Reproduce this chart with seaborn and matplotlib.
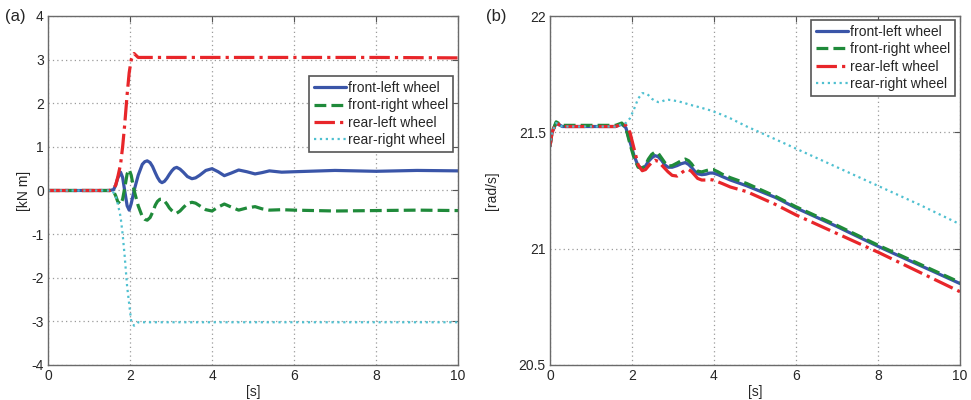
import numpy as np
import pandas as pd
import matplotlib
matplotlib.use("Agg")
import matplotlib.pyplot as plt
import seaborn as sns

# ---- panel (a): wheel torque [kN m] ----
t_front = [0, 1.5, 1.6, 1.65, 1.7, 1.77, 1.82, 1.87, 1.93, 1.98, 2.03, 2.1, 2.2,
           2.3, 2.36, 2.42, 2.49, 2.55, 2.62, 2.67, 2.73, 2.78, 2.84, 2.9, 2.96,
           3.02, 3.08, 3.14, 3.22, 3.3, 3.4, 3.51, 3.6, 3.7, 3.85, 4.0, 4.15,
           4.3, 4.47, 4.65, 4.85, 5.05, 5.22, 5.4, 5.7, 6.0, 7.0, 8.0, 9.0, 10.0]
torque_fl = [0, 0, 0.02, 0.12, 0.28, 0.42, 0.30, 0.0, -0.35, -0.45, -0.30, 0.0,
             0.35, 0.60, 0.66, 0.68, 0.64, 0.55, 0.40, 0.30, 0.21, 0.18, 0.21,
             0.28, 0.37, 0.45, 0.51, 0.53, 0.49, 0.42, 0.32, 0.27, 0.29, 0.35,
             0.46, 0.50, 0.43, 0.34, 0.40, 0.47, 0.43, 0.38, 0.41, 0.45, 0.42,
             0.43, 0.46, 0.44, 0.46, 0.45]
torque_fr = [0, 0, -0.02, -0.12, -0.25, -0.32, -0.20, 0.05, 0.38, 0.48, 0.35,
             0.0, -0.35, -0.60, -0.66, -0.68, -0.62, -0.50, -0.33, -0.25, -0.20,
             -0.20, -0.24, -0.31, -0.40, -0.46, -0.51, -0.52, -0.47, -0.39,
             -0.30, -0.27, -0.29, -0.35, -0.44, -0.47, -0.38, -0.31, -0.38,
             -0.45, -0.40, -0.37, -0.42, -0.45, -0.44, -0.45, -0.47, -0.46,
             -0.45, -0.46]
t_rear = [0, 1.5, 1.6, 1.65, 1.7, 1.77, 1.82, 1.87, 1.93, 1.98, 2.03, 2.1, 2.2,
          3.0, 5.0, 8.0, 10.0]
torque_rl = [0, 0, 0.05, 0.12, 0.30, 0.60, 1.0, 1.5, 2.2, 2.7, 3.0, 3.14, 3.05,
             3.05, 3.05, 3.05, 3.04]
torque_rr = [0, 0, -0.05, -0.12, -0.30, -0.60, -1.0, -1.5, -2.2, -2.6, -3.0,
             -3.1, -3.02, -3.02, -3.02, -3.02, -3.02]

# ---- panel (b): wheel speed [rad/s] ----
t_b = [0, 0.05, 0.15, 0.3, 1.0, 1.6, 1.75, 1.85, 1.95, 2.05, 2.15, 2.25, 2.33,
       2.4, 2.48, 2.56, 2.64, 2.72, 2.8, 2.88, 2.98, 3.1, 3.2, 3.3, 3.38, 3.45,
       3.52, 3.6, 3.7, 3.8, 3.9, 3.98, 4.1, 4.2, 4.4, 4.8, 5.5, 6.0, 7.0, 8.0,
       9.0, 10.0]
speed_fl = [21.44, 21.50, 21.54, 21.525, 21.525, 21.525, 21.535, 21.52, 21.46,
            21.40, 21.355, 21.345, 21.355, 21.375, 21.39, 21.40, 21.395, 21.38,
            21.36, 21.35, 21.35, 21.357, 21.365, 21.37, 21.362, 21.35, 21.335,
            21.322, 21.318, 21.32, 21.325, 21.325, 21.318, 21.31, 21.295,
            21.27, 21.22, 21.175, 21.095, 21.01, 20.93, 20.85]
speed_fr = [21.44, 21.50, 21.545, 21.53, 21.53, 21.53, 21.54, 21.52, 21.45,
            21.39, 21.35, 21.345, 21.36, 21.385, 21.405, 21.415, 21.41, 21.39,
            21.37, 21.355, 21.357, 21.368, 21.378, 21.385, 21.378, 21.365,
            21.348, 21.333, 21.33, 21.335, 21.34, 21.34, 21.33, 21.32, 21.305,
            21.28, 21.225, 21.18, 21.10, 21.015, 20.935, 20.855]
speed_rl = [21.44, 21.50, 21.54, 21.525, 21.525, 21.525, 21.535, 21.53, 21.50,
            21.43, 21.36, 21.335, 21.34, 21.355, 21.37, 21.38, 21.375, 21.36,
            21.345, 21.33, 21.315, 21.312, 21.325, 21.338, 21.34, 21.332,
            21.318, 21.302, 21.295, 21.295, 21.297, 21.295, 21.287, 21.28,
            21.265, 21.245, 21.19, 21.145, 21.065, 20.985, 20.90, 20.815]
speed_rr = [21.44, 21.50, 21.54, 21.525, 21.525, 21.525, 21.535, 21.54, 21.56,
            21.60, 21.645, 21.668, 21.668, 21.66, 21.645, 21.635, 21.63, 21.632,
            21.638, 21.64, 21.638, 21.634, 21.63, 21.625, 21.62, 21.617, 21.613,
            21.61, 21.605, 21.60, 21.595, 21.59, 21.582, 21.575, 21.56, 21.525,
            21.47, 21.43, 21.35, 21.27, 21.19, 21.105]

labels = ["front-left wheel", "front-right wheel", "rear-left wheel", "rear-right wheel"]
colors = ["#3a55a8", "#1f8a3a", "#e8262a", "#4fc0d0"]
styles = ["-", "--", "-.", ":"]
widths = [2.3, 2.3, 2.3, 1.6]

sns.set_style("white")
plt.rcParams["font.family"] = ["Liberation Sans", "DejaVu Sans"]
plt.rcParams["font.size"] = 10
plt.rcParams["axes.unicode_minus"] = False

fig = plt.figure(figsize=(9.71, 4.0), dpi=100)
ax_a = fig.add_axes([48 / 971, 1 - 365 / 400, 410 / 971, 349 / 400])
ax_b = fig.add_axes([550 / 971, 1 - 365 / 400, 410 / 971, 349 / 400])


def draw(ax, series):
    for (t, y), lab, c, ls, lw in zip(series, labels, colors, styles, widths):
        df = pd.DataFrame({"t": t, "v": y})
        sns.lineplot(data=df, x="t", y="v", ax=ax, color=c, linewidth=lw,
                     label=lab, linestyle=ls)


draw(ax_a, [(t_front, torque_fl), (t_front, torque_fr),
            (t_rear, torque_rl), (t_rear, torque_rr)])
draw(ax_b, [(t_b, speed_fl), (t_b, speed_fr), (t_b, speed_rl), (t_b, speed_rr)])

for ax in (ax_a, ax_b):
    ax.set_xlim(0, 10)
    ax.set_xticks(np.arange(0, 11, 2))
    ax.grid(True, linestyle=(0, (1, 2.5)), color="#9a9a9a", linewidth=0.9)
    ax.tick_params(direction="in", top=True, right=True, length=4,
                   color="#555555", labelsize=10, pad=3)
    for s in ax.spines.values():
        s.set_color("#6a6a6a")
        s.set_linewidth(1.0)
    ax.set_xlabel("[s]", fontsize=10, labelpad=1)

ax_a.set_ylim(-4, 4)
ax_a.set_yticks(np.arange(-4, 5, 1))
ax_a.set_ylabel("[kN m]", fontsize=10, labelpad=0)

ax_b.set_ylim(20.5, 22)
ax_b.set_yticks([20.5, 21, 21.5, 22])
ax_b.set_yticklabels(["20.5", "21", "21.5", "22"])
ax_b.set_ylabel("[rad/s]", fontsize=10, labelpad=14)

leg_kw = dict(fontsize=10, frameon=True, fancybox=False, edgecolor="#555555",
              framealpha=1, handlelength=2.3, handletextpad=0.15,
              labelspacing=0.25, borderpad=0.35, borderaxespad=0)
la = ax_a.legend(loc="upper right", bbox_to_anchor=(0.988, 0.828), **leg_kw)
lb = ax_b.legend(loc="upper right", bbox_to_anchor=(0.988, 0.989), **leg_kw)
for lg in (la, lb):
    lg.get_frame().set_linewidth(1.2)

fig.text(5 / 971, 1 - 16 / 400, "(a)", fontsize=12, va="center", ha="left")
fig.text(486 / 971, 1 - 16 / 400, "(b)", fontsize=12, va="center", ha="left")

fig.savefig("out.png", dpi=100)
